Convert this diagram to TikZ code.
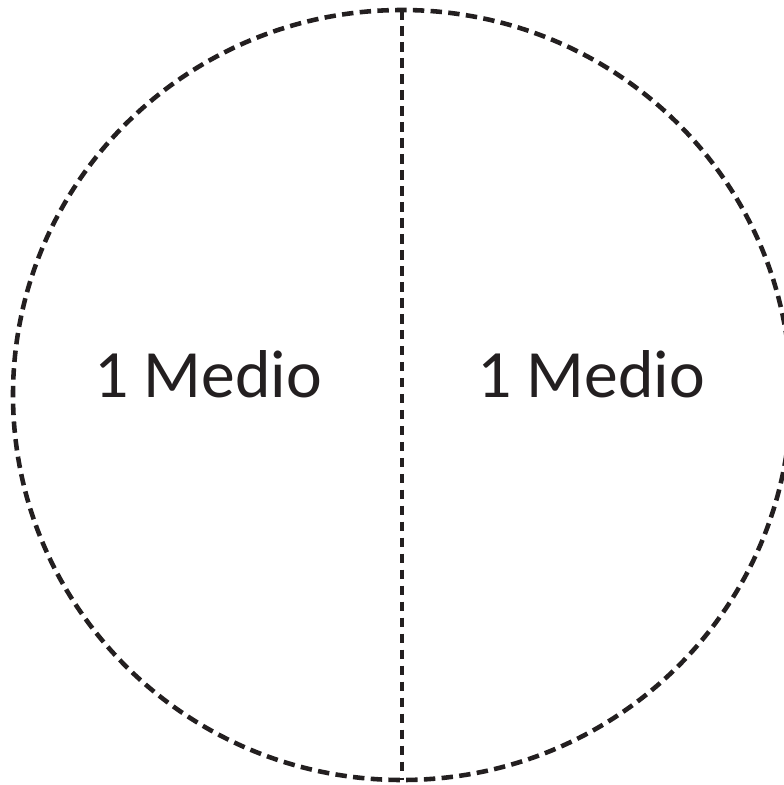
\documentclass[tikz,border=0pt]{standalone}
\usepackage{fontspec}
\setmainfont{Carlito}
\definecolor{Ink}{HTML}{231F20}

\begin{document}
\begin{tikzpicture}[
  every node/.style={font=\fontsize{38.5}{46}\selectfont, inner sep=0pt, text=Ink},
  cut/.style={Ink, line width=2.6pt, dash pattern=on 6.5pt off 3.6pt}
]

% Picture dimensions
\def\pw{15.68}   % picture width cm
\def\ph{15.70}   % picture height cm
\useasboundingbox (0,0) rectangle (\pw,-\ph);

% Circle centre and radii
\def\cx{8.04}
\def\cy{-7.90}
\def\rx{7.78}
\def\ry{7.70}

% ============================================================
% Whole: dashed outline
% ============================================================
\draw[cut] (\cx,\cy) ellipse [x radius=\rx, y radius=\ry];

% ============================================================
% Split into two halves
% ============================================================
\coordinate (top) at (\cx, \cy+\ry);
\coordinate (bottom) at (\cx, \cy-\ry);
\draw[cut, line width=2.2pt, dash pattern=on 5.5pt off 3.6pt] (top) -- (bottom);

% Half labels
\node[anchor=base] (lefthalf) at (4.16, -7.94) {1 Medio};
\node[anchor=base] (righthalf) at (11.82, -7.94) {1 Medio};

\end{tikzpicture}
\end{document}
